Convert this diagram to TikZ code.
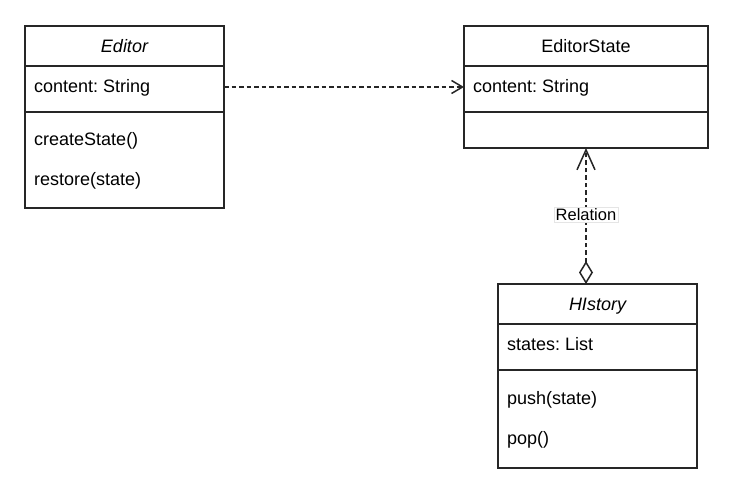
\documentclass[tikz,border=0pt]{standalone}
\usepackage{fontspec}
\setmainfont{Liberation Sans}
\usetikzlibrary{arrows.meta,calc}
\frenchspacing
\tikzset{
  classbox/.style={draw=black!85, line width=1.5pt, fill=white, anchor=north west, inner sep=0pt, outer sep=0pt},
  sepline/.style={draw=black!85, line width=1.5pt},
  txt/.style={anchor=base west, inner sep=0pt, font=\fontsize{18pt}{21pt}\selectfont},
  ttl/.style={anchor=base, inner sep=0pt, font=\fontsize{18pt}{21pt}\selectfont},
  dep/.style={draw=black!85, line width=1.5pt, dash pattern=on 4.5pt off 3pt},
  lbl/.style={font=\fontsize{16.5pt}{19pt}\selectfont, fill=white, draw=black!10, solid, line width=0.5pt, inner sep=1.5pt}
}
\begin{document}
\begin{tikzpicture}[x=1pt,y=-1pt]
\useasboundingbox[fill=white] (0,0) rectangle (734,494);

% Editor
\node[classbox, minimum width=199pt, minimum height=182pt] (editor) at (25,26) {};
\draw[sepline] ($(editor.north west)+(0,40)$) -- ($(editor.north east)+(0,40)$);
\draw[sepline] ($(editor.north west)+(0,86)$) -- ($(editor.north east)+(0,86)$);
\node[ttl] (edT) at (124.5,53) {\itshape Editor};
\node[txt] (edA) at (34,93) {content: String};
\node[txt] (edM1) at (34,146) {createState()};
\node[txt] (edM2) at (34,186) {restore(state)};

% EditorState
\node[classbox, minimum width=244pt, minimum height=122pt] (state) at (464,26) {};
\draw[sepline] ($(state.north west)+(0,40)$) -- ($(state.north east)+(0,40)$);
\draw[sepline] ($(state.north west)+(0,86)$) -- ($(state.north east)+(0,86)$);
\node[ttl] (stT) at (586,53) {EditorState};
\node[txt] (stA) at (473,93) {content: String};

% History
\node[classbox, minimum width=199pt, minimum height=184pt] (hist) at (498,284) {};
\draw[sepline] ($(hist.north west)+(0,40)$) -- ($(hist.north east)+(0,40)$);
\draw[sepline] ($(hist.north west)+(0,86)$) -- ($(hist.north east)+(0,86)$);
\node[ttl] (hiT) at (597.5,311) {\itshape HIstory};
\node[txt] (hiA) at (507,351) {states: List};
\node[txt] (hiM1) at (507,404) {push(state)};
\node[txt] (hiM2) at (507,444) {pop()};

% connectors
\coordinate (row) at (0,87);
\draw[dep, -{Straight Barb[length=11pt, width=13pt, line width=1.5pt]}]
  (editor.east |- row) -- (state.west |- row);
\draw[dep, {Diamond[fill=white, length=23pt, width=14pt, line width=1.5pt]}-{Straight Barb[length=20pt, width=18pt, line width=1.5pt]}]
  (state.south |- hist.north) -- node[lbl, pos=0.51] (rel) {Relation} (state.south);
\end{tikzpicture}
\end{document}
